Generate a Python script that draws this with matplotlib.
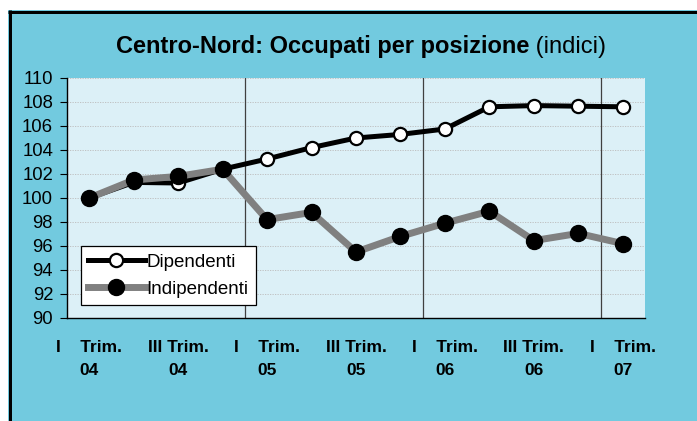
import matplotlib
matplotlib.use("Agg")
import matplotlib.pyplot as plt
from matplotlib.patches import Rectangle
from matplotlib.lines import Line2D

plt.rcParams['font.family'] = ['Liberation Sans', 'DejaVu Sans']

categories = ["I Trim. 04", "II Trim. 04", "III Trim. 04", "IV Trim. 04",
              "I Trim. 05", "II Trim. 05", "III Trim. 05", "IV Trim. 05",
              "I Trim. 06", "II Trim. 06", "III Trim. 06", "IV Trim. 06",
              "I Trim. 07"]
dipendenti = [100.0, 101.3, 101.25, 102.4, 103.25, 104.2, 105.0, 105.3, 105.75, 107.6, 107.7, 107.65, 107.6]
indipendenti = [100.0, 101.5, 101.8, 102.4, 98.2, 98.8, 95.5, 96.8, 97.9, 98.9, 96.45, 97.05, 96.2]
tick_idx = [0, 2, 4, 6, 8, 10, 12]
tick_labels = ["I    Trim.\n04", "III Trim.\n04", "I    Trim.\n05", "III Trim.\n05",
               "I    Trim.\n06", "III Trim.\n06", "I    Trim.\n07"]
separators = [3.5, 7.5, 11.5]
title_bold = "Centro-Nord: Occupati per posizione"
title_normal = " (indici)"

W, H = 697, 421
fig = plt.figure(figsize=(W / 100, H / 100), dpi=100, facecolor='white')

outer = '#72CADF'
inner = '#DCF0F7'
fig.patches.append(Rectangle((8 / W, 0), 1 - 8 / W, (H - 10) / H, transform=fig.transFigure,
                             facecolor=outer, edgecolor='none', zorder=-10))
fig.lines.append(Line2D([9.5 / W, 9.5 / W], [0, (H - 10) / H], transform=fig.transFigure,
                        color='black', lw=3 * 0.72, zorder=-5, solid_capstyle='butt'))
fig.lines.append(Line2D([8 / W, 1], [(H - 11.5) / H, (H - 11.5) / H], transform=fig.transFigure,
                        color='black', lw=3 * 0.72, zorder=-5, solid_capstyle='butt'))

ax = fig.add_axes([67 / W, 1 - 318 / H, (645 - 67) / W, (318 - 78) / H])
ax.set_zorder(1)
ax.set_facecolor(inner)
x = list(range(len(categories)))

ax.plot(x, dipendenti, color='black', lw=3.6, marker='o', markersize=9.5,
        markerfacecolor='white', markeredgecolor='black', markeredgewidth=1.6,
        label='Dipendenti', zorder=3)
ax.plot(x, indipendenti, color='#808080', lw=5.0, marker='o', markersize=11.5,
        markerfacecolor='black', markeredgecolor='black', markeredgewidth=1,
        label='Indipendenti', zorder=4)

for s in separators:
    ax.axvline(s, color='#404040', lw=0.9, zorder=2)

ax.set_xlim(-0.5, len(categories) - 0.5)
ax.set_ylim(90, 110)
ax.set_yticks(range(90, 111, 2))
ax.yaxis.grid(True, color='#BBBBBB', linestyle=(0, (1.5, 1.5)), lw=0.6, zorder=1)
ax.set_axisbelow(True)
ax.tick_params(axis='y', labelsize=13.3, length=5, width=0.8, pad=5, direction='out')
ax.set_xticks(tick_idx)
ax.set_xticklabels(tick_labels, fontweight='bold', fontsize=12.5, linespacing=1.65,
                   multialignment='center')
ax.tick_params(axis='x', length=0, pad=16)

for side in ['top', 'right']:
    ax.spines[side].set_visible(False)
for side in ['left', 'bottom']:
    ax.spines[side].set_color('black')
    ax.spines[side].set_linewidth(1.0)

leg = ax.legend(loc='lower left', bbox_to_anchor=(0.024, 0.054), borderaxespad=0,
                fontsize=13.5, frameon=True, fancybox=False, handlelength=3.0,
                handletextpad=0.1, borderpad=0.4, labelspacing=0.5)
leg.get_frame().set_edgecolor('black')
leg.get_frame().set_linewidth(0.9)
leg.get_frame().set_facecolor('white')
leg.get_frame().set_alpha(1)

# title: bold part + normal part, centered as a whole
t1 = fig.text(0, 0, title_bold, fontsize=17, fontweight='bold')
t2 = fig.text(0, 0, title_normal, fontsize=17)
fig.canvas.draw()
r = fig.canvas.get_renderer()
w1 = t1.get_window_extent(r).width
w2 = t2.get_window_extent(r).width
cx = 361
x0 = cx - (w1 + w2) / 2
base = H - 53
t1.set_position((x0 / W, base / H))
t2.set_position(((x0 + w1) / W, base / H))
t1.set_va('baseline'); t2.set_va('baseline')

fig.savefig('out.png', dpi=100, facecolor=fig.get_facecolor())
